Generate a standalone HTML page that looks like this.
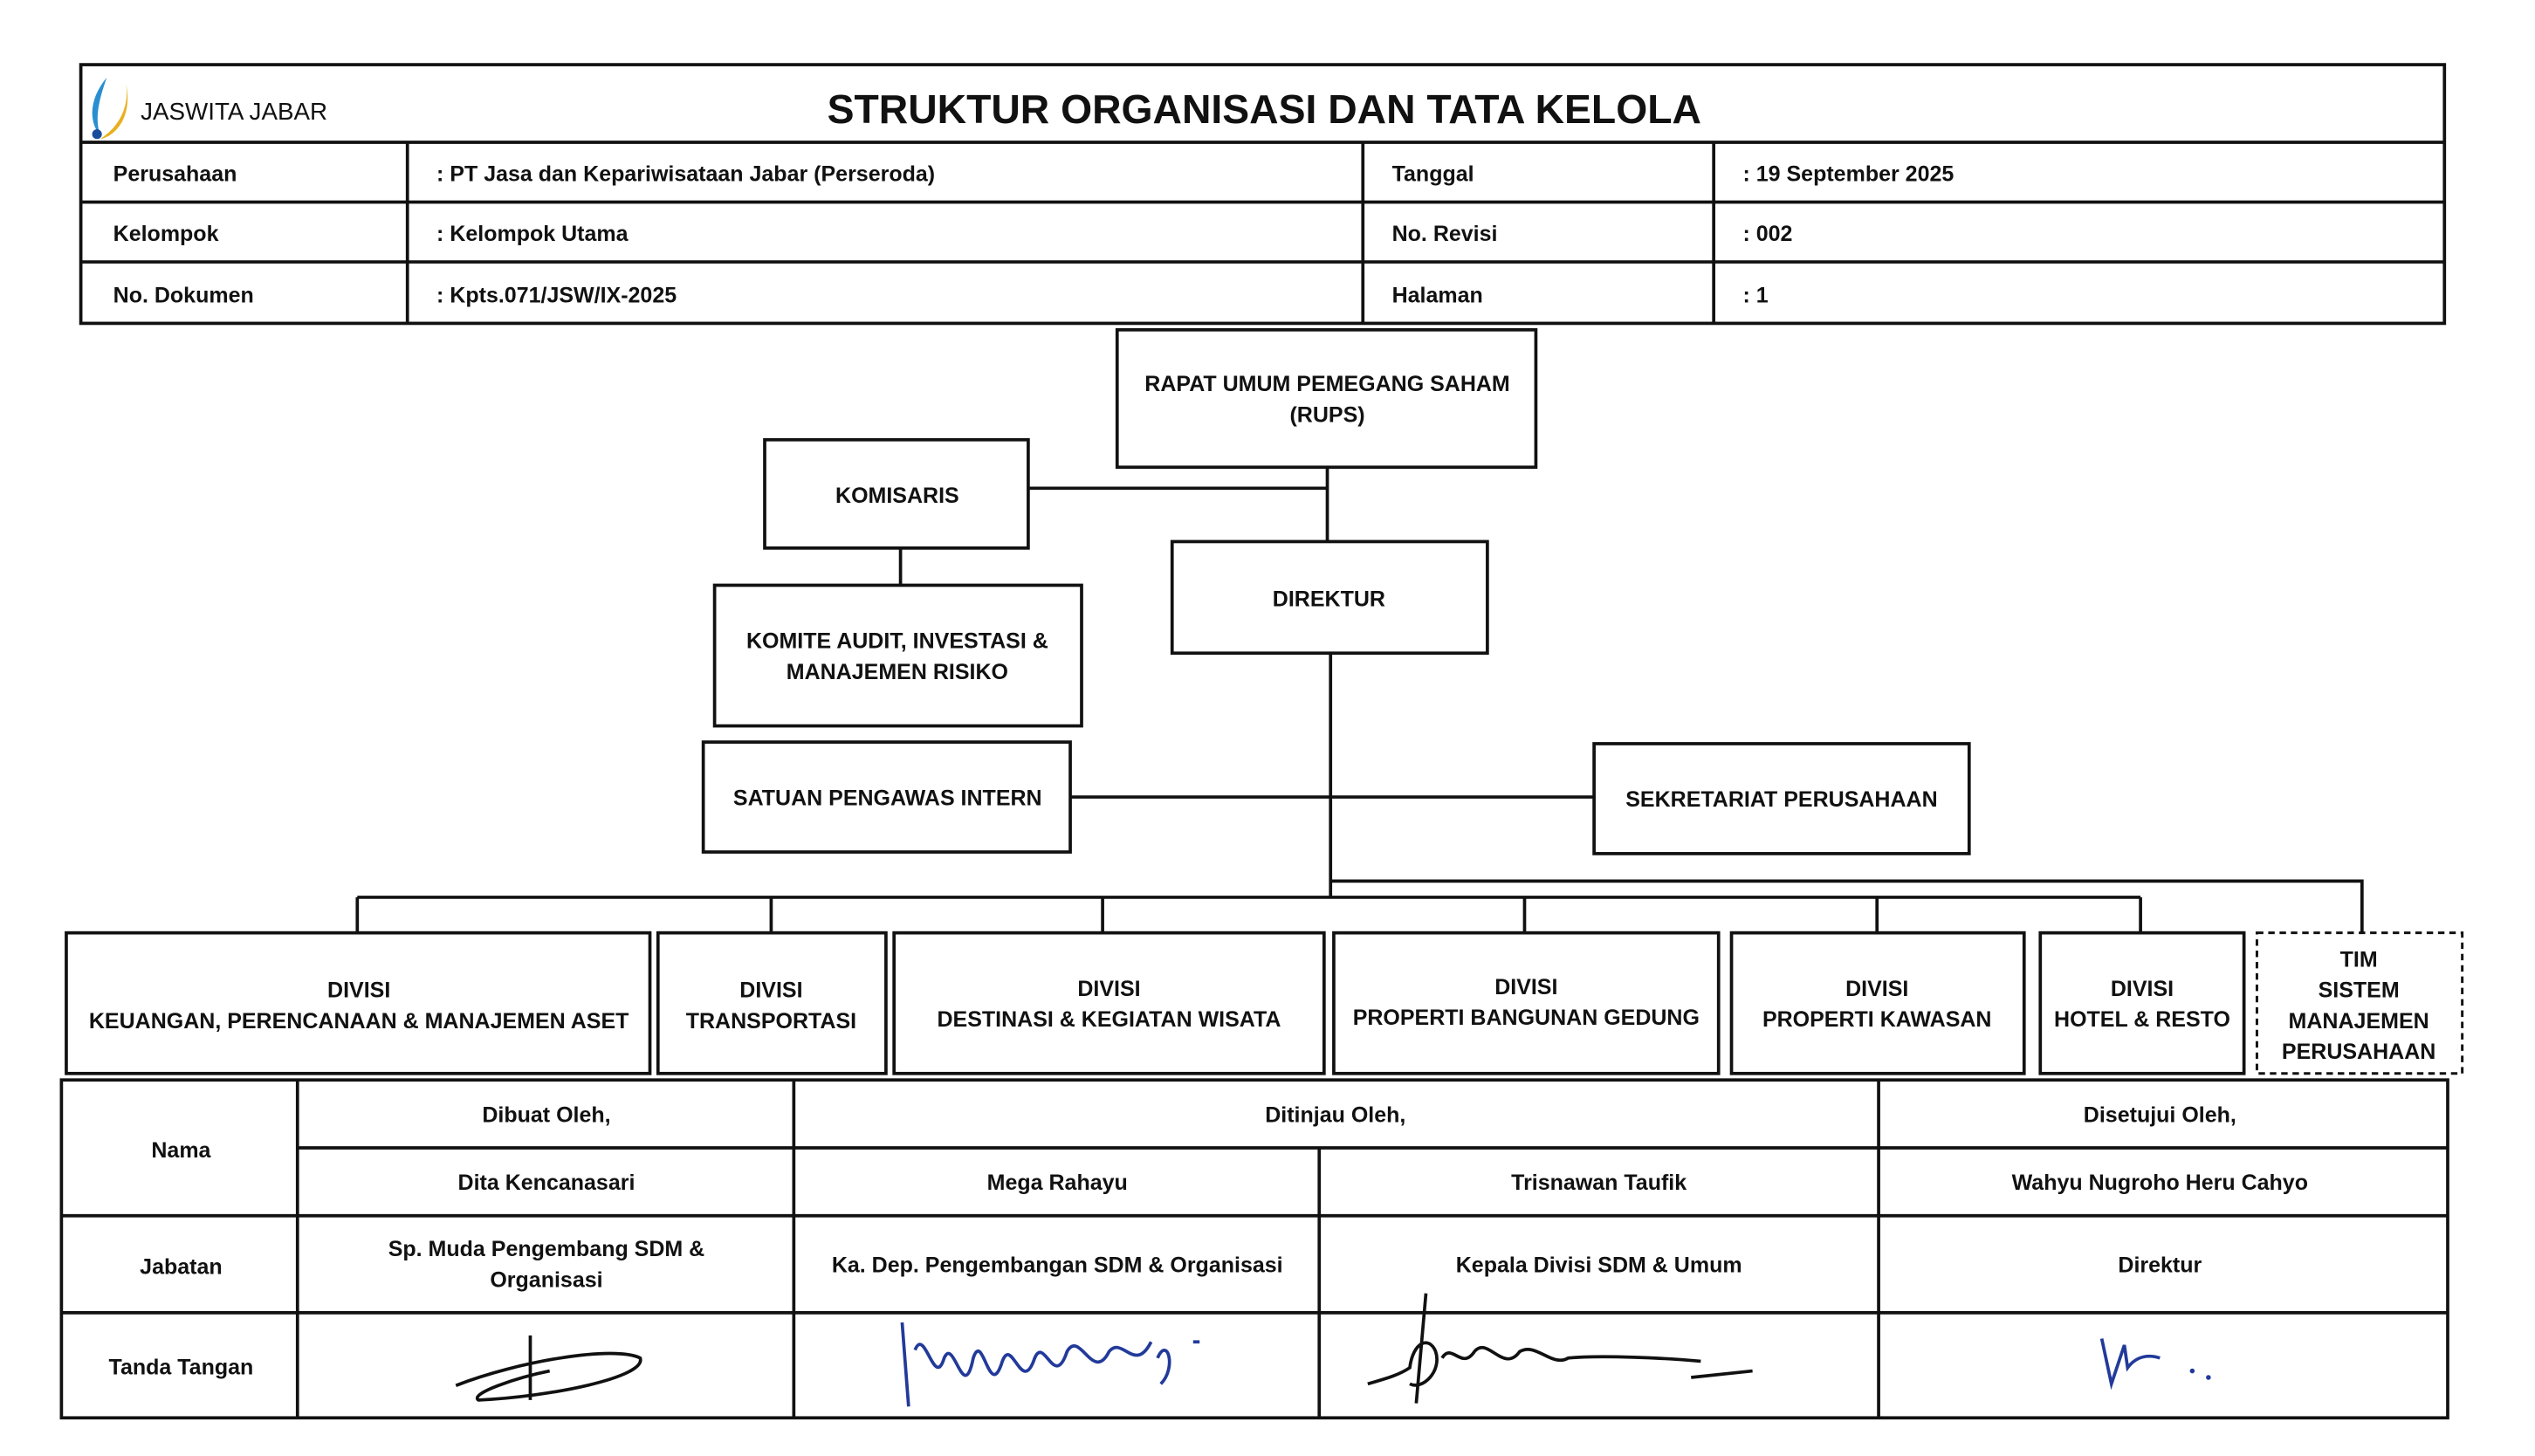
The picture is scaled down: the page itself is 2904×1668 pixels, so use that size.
<!DOCTYPE html>
<html><head><meta charset="utf-8"><style>
html,body{margin:0;padding:0;background:#fff}
svg{display:block}
text{font-family:"Liberation Sans Narrow","Liberation Sans",sans-serif;font-weight:bold;fill:#111}
</style></head><body>
<svg width="2904" height="1668" viewBox="0 0 1568 900.6" preserveAspectRatio="none" xmlns="http://www.w3.org/2000/svg">
<g fill="none" stroke="#111" stroke-width="2">
<!-- header -->
<rect x="50" y="40" width="1462" height="160"/>
<line x1="50" y1="88" x2="1512" y2="88"/>
<line x1="50" y1="125" x2="1512" y2="125"/>
<line x1="50" y1="162" x2="1512" y2="162"/>
<line x1="252" y1="88" x2="252" y2="200"/>
<line x1="843" y1="88" x2="843" y2="200"/>
<line x1="1060" y1="88" x2="1060" y2="200"/>
<!-- boxes -->
<rect x="691" y="204" width="259" height="85"/>
<rect x="473" y="272" width="163" height="67"/>
<rect x="442" y="362" width="227" height="87"/>
<rect x="725" y="335" width="195" height="69"/>
<rect x="435" y="459" width="227" height="68"/>
<rect x="986" y="460" width="232" height="68"/>
<!-- connectors -->
<line x1="821" y1="289" x2="821" y2="335"/>
<line x1="636" y1="302" x2="821" y2="302"/>
<line x1="557" y1="339" x2="557" y2="362"/>
<line x1="823" y1="404" x2="823" y2="555"/>
<line x1="662" y1="493" x2="986" y2="493"/>
<line x1="221" y1="555" x2="1324" y2="555"/>
<polyline points="823,545 1461,545 1461,577"/>
<line x1="221" y1="555" x2="221" y2="577"/>
<line x1="477" y1="555" x2="477" y2="577"/>
<line x1="682" y1="555" x2="682" y2="577"/>
<line x1="943" y1="555" x2="943" y2="577"/>
<line x1="1161" y1="555" x2="1161" y2="577"/>
<line x1="1324" y1="555" x2="1324" y2="577"/>
<!-- divisions -->
<rect x="41" y="577" width="361" height="87"/>
<rect x="407" y="577" width="141" height="87"/>
<rect x="553" y="577" width="266" height="87"/>
<rect x="825" y="577" width="238" height="87"/>
<rect x="1071" y="577" width="181" height="87"/>
<rect x="1262" y="577" width="126" height="87"/>
<rect x="1396" y="577" width="127" height="87" stroke-dasharray="4,3" stroke-width="1.6"/>
<!-- bottom table -->
<rect x="38" y="668" width="1476" height="209"/>
<line x1="184" y1="710" x2="1514" y2="710"/>
<line x1="38" y1="752" x2="1514" y2="752"/>
<line x1="38" y1="812" x2="1514" y2="812"/>
<line x1="184" y1="668" x2="184" y2="877"/>
<line x1="491" y1="668" x2="491" y2="877"/>
<line x1="816" y1="710" x2="816" y2="877"/>
<line x1="1162" y1="668" x2="1162" y2="877"/>
</g>
<!-- logo -->
<path d="M66,48 C56,60 54,74 62,84 C58,72 62,60 66,48 Z" fill="#2a8fd0"/>
<path d="M78,52 C80,66 74,78 62,86 C72,84 82,72 78,52 Z" fill="#e8b020"/>
<circle cx="60" cy="83" r="3" fill="#1a4c9c"/>
<text x="87" y="74" style="font-family:'Liberation Sans',sans-serif;font-weight:normal;font-size:15px">JASWITA JABAR</text>
<text x="782" y="76" text-anchor="middle" style="font-family:'Liberation Sans',sans-serif;font-size:25px">STRUKTUR ORGANISASI DAN TATA KELOLA</text>
<g font-size="13.5">
<text x="70" y="112">Perusahaan</text>
<text x="70" y="149">Kelompok</text>
<text x="70" y="187">No. Dokumen</text>
<text x="270" y="112">: PT Jasa dan Kepariwisataan Jabar (Perseroda)</text>
<text x="270" y="149">: Kelompok Utama</text>
<text x="270" y="187">: Kpts.071/JSW/IX-2025</text>
<text x="861" y="112">Tanggal</text>
<text x="861" y="149">No. Revisi</text>
<text x="861" y="187">Halaman</text>
<text x="1078" y="112">: 19 September 2025</text>
<text x="1078" y="149">: 002</text>
<text x="1078" y="187">: 1</text>
</g>
<g font-size="13.5" text-anchor="middle">
<text x="821" y="242">RAPAT UMUM PEMEGANG SAHAM</text>
<text x="821" y="261">(RUPS)</text>
<text x="555" y="311">KOMISARIS</text>
<text x="555" y="401">KOMITE AUDIT, INVESTASI &amp;</text>
<text x="555" y="420">MANAJEMEN RISIKO</text>
<text x="822" y="375">DIREKTUR</text>
<text x="549" y="498">SATUAN PENGAWAS INTERN</text>
<text x="1102" y="499">SEKRETARIAT PERUSAHAAN</text>
<text x="222" y="617">DIVISI</text>
<text x="222" y="636">KEUANGAN, PERENCANAAN &amp; MANAJEMEN ASET</text>
<text x="477" y="617">DIVISI</text>
<text x="477" y="636">TRANSPORTASI</text>
<text x="686" y="616">DIVISI</text>
<text x="686" y="635">DESTINASI  &amp; KEGIATAN WISATA</text>
<text x="944" y="615">DIVISI</text>
<text x="944" y="634">PROPERTI BANGUNAN GEDUNG</text>
<text x="1161" y="616">DIVISI</text>
<text x="1161" y="635">PROPERTI KAWASAN</text>
<text x="1325" y="616">DIVISI</text>
<text x="1325" y="635">HOTEL &amp; RESTO</text>
<text x="1459" y="598">TIM</text>
<text x="1459" y="617">SISTEM</text>
<text x="1459" y="636">MANAJEMEN</text>
<text x="1459" y="655">PERUSAHAAN</text>
<text x="112" y="716">Nama</text>
<text x="112" y="788">Jabatan</text>
<text x="112" y="850">Tanda Tangan</text>
<text x="338" y="694">Dibuat Oleh,</text>
<text x="826" y="694">Ditinjau Oleh,</text>
<text x="1336" y="694">Disetujui Oleh,</text>
<text x="338" y="736">Dita Kencanasari</text>
<text x="654" y="736">Mega Rahayu</text>
<text x="989" y="736">Trisnawan Taufik</text>
<text x="1336" y="736">Wahyu Nugroho Heru Cahyo</text>
<text x="338" y="777">Sp. Muda Pengembang SDM &amp;</text>
<text x="338" y="796">Organisasi</text>
<text x="654" y="787">Ka. Dep. Pengembangan SDM &amp; Organisasi</text>
<text x="989" y="787">Kepala Divisi SDM &amp; Umum</text>
<text x="1336" y="787">Direktur</text>
</g>
<!-- signatures -->
<g fill="none" stroke-width="2">
<path d="M282,857 C320,842 380,832 396,840 C400,852 340,864 296,866 C290,862 320,852 340,848 M328,826 L328,866" stroke="#111"/>
<path d="M558,818 L562,870 M566,835 C572,820 578,860 584,840 C590,826 596,870 602,840 C608,822 612,868 620,842 C626,826 632,864 640,840 C646,826 652,860 660,836 C668,822 676,856 686,836 C694,826 702,850 712,830 M716,840 C722,826 728,846 718,856 M738,830 L742,830" stroke="#223a9a"/>
<path d="M846,856 C860,852 866,850 872,846 C874,830 884,826 888,836 C892,848 880,860 872,856 M882,800 L876,868 M892,840 C898,830 904,848 912,836 C920,826 930,850 940,836 C950,830 960,846 970,840 C990,838 1030,840 1052,842 M1046,852 L1084,848" stroke="#111"/>
<path d="M1300,828 L1306,856 L1314,832 L1316,846 C1322,838 1330,838 1336,840" stroke="#223a9a"/>
</g>
<circle cx="1356" cy="848" r="1.5" fill="#223a9a"/>
<circle cx="1366" cy="852" r="1.5" fill="#223a9a"/>
</svg>
</body></html>
